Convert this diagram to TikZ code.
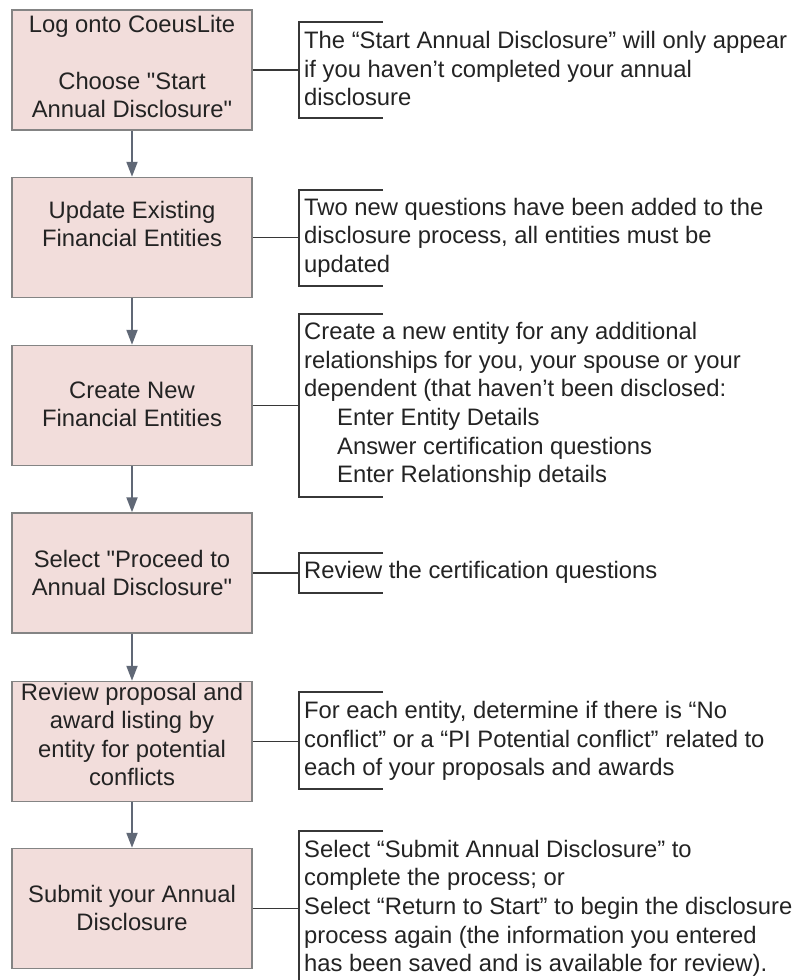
\documentclass[tikz,border=0pt]{standalone}
\usepackage{fontspec}
\setmainfont{Liberation Sans}
\usetikzlibrary{arrows.meta}
\definecolor{boxfill}{RGB}{242,221,219}
\definecolor{boxline}{RGB}{132,132,132}
\definecolor{arrowc}{RGB}{96,104,118}
\definecolor{brline}{RGB}{55,55,55}
\definecolor{txt}{RGB}{35,35,35}
\newcommand{\fstrut}{\rule{0pt}{20pt}}
\newcommand{\sq}{\textquotedbl}
\begin{document}
\begin{tikzpicture}[x=1pt,y=-1pt,
  stepbox/.style={draw=boxline, fill=boxfill, line width=1.5pt, minimum width=240pt, minimum height=120pt, inner sep=0pt},
  boxtext/.style={anchor=north, align=center, inner sep=0pt, text=txt, font=\fontsize{23.8}{28.4}\selectfont},
  notetext/.style={anchor=north west, align=left, inner sep=0pt, text=txt, font=\fontsize{23.8}{28.6}\selectfont},
  flow/.style={draw=arrowc, line width=2pt, -{Triangle[length=15pt,width=11pt]}},
  bracket/.style={draw=brline, line width=1.5pt},
  link/.style={draw=brline, line width=1.5pt},
]
\useasboundingbox (0,0) rectangle (797,980);

% boxes
\node[stepbox] (b1) at (132,70) {};
\node[stepbox] (b2) at (132,237.5) {};
\node[stepbox] (b3) at (132,405.5) {};
\node[stepbox] (b4) at (132,573) {};
\node[stepbox] (b5) at (132,741.5) {};
\node[stepbox] (b6) at (132,908.5) {};

% box texts
\node[boxtext] (t1) at (132,12) {\fstrut Log onto CoeusLite\\[28.4pt]Choose \sq Start\\Annual Disclosure\sq};
\node[boxtext] (t2) at (132,198) {\fstrut Update Existing\\Financial Entities};
\node[boxtext] (t3) at (132,378) {\fstrut Create New\\Financial Entities};
\node[boxtext] (t4) at (132,547) {\fstrut Select \sq Proceed to\\Annual Disclosure\sq};
\node[boxtext] (t5) at (132,680) {\fstrut Review proposal and\\award listing by\\entity for potential\\conflicts};
\node[boxtext] (t6) at (132,882) {\fstrut Submit your Annual\\Disclosure};

% arrows
\draw[flow] (b1.south) -- (b2.north);
\draw[flow] (b2.south) -- (b3.north);
\draw[flow] (b3.south) -- (b4.north);
\draw[flow] (b4.south) -- (b5.north);
\draw[flow] (b5.south) -- (b6.north);

% brackets
\draw[bracket] (383,22) -- (299,22) -- (299,118) -- (383,118);
\draw[bracket] (383,190) -- (299,190) -- (299,286) -- (383,286);
\draw[bracket] (383,314) -- (299,314) -- (299,497) -- (383,497);
\draw[bracket] (383,553) -- (299,553) -- (299,593) -- (383,593);
\draw[bracket] (383,692) -- (299,692) -- (299,789) -- (383,789);
\draw[bracket] (383,831) -- (299,831) -- (299,990);

\coordinate (k1) at (299,70);
\coordinate (k2) at (299,237.5);
\coordinate (k3) at (299,405.5);
\coordinate (k4) at (299,573);
\coordinate (k5) at (299,741.5);
\coordinate (k6) at (299,908.5);
\draw[link] (b1.east) -- (k1);
\draw[link] (b2.east) -- (k2);
\draw[link] (b3.east) -- (k3);
\draw[link] (b4.east) -- (k4);
\draw[link] (b5.east) -- (k5);
\draw[link] (b6.east) -- (k6);

% notes
\node[notetext] (n1) at (304,28.3) {\fstrut The “Start Annual Disclosure” will only appear\\if you haven’t completed your annual\\disclosure};
\node[notetext] (n2) at (304,195) {\fstrut Two new questions have been added to the\\disclosure process, all entities must be\\updated};
\node[notetext] (n3) at (304,319.5) {\fstrut Create a new entity for any additional\\relationships for you, your spouse or your\\dependent (that haven’t been disclosed:\\\hspace*{33pt}Enter Entity Details\\\hspace*{33pt}Answer certification questions\\\hspace*{33pt}Enter Relationship details};
\node[notetext] (n4) at (304,558.3) {\fstrut Review the certification questions};
\node[notetext] (n5) at (304,698.3) {\fstrut For each entity, determine if there is “No\\conflict” or a “PI Potential conflict” related to\\each of your proposals and awards};
\node[notetext] (n6) at (304,837) {\fstrut Select “Submit Annual Disclosure” to\\complete the process; or\\Select “Return to Start” to begin the disclosure\\process again (the information you entered\\has been saved and is available for review).};
\end{tikzpicture}
\end{document}
